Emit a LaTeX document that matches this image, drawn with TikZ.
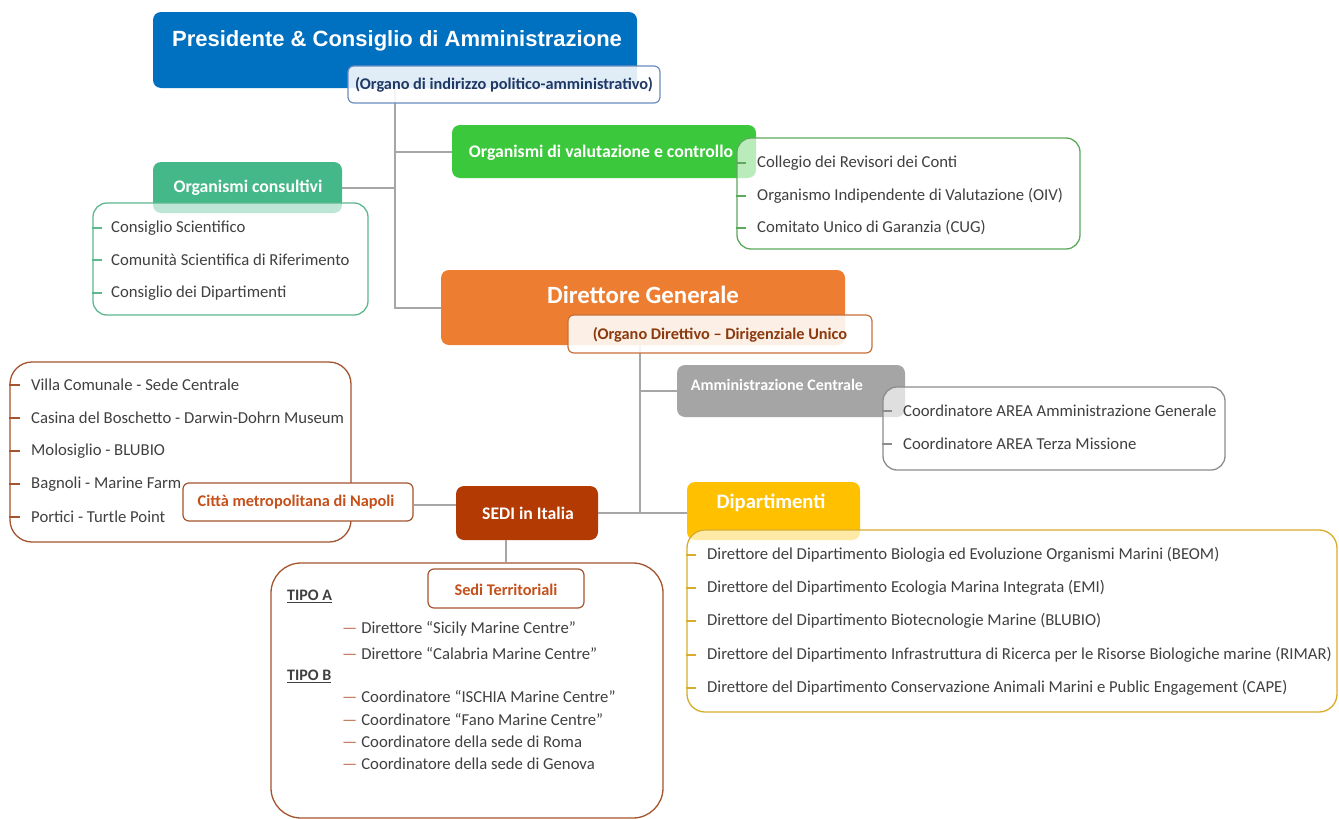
\documentclass[tikz,border=0pt]{standalone}
\usepackage{fontspec}
\setmainfont{Carlito}
\newfontfamily\arialfont{Liberation Sans}
\definecolor{cBlue}{HTML}{0070C0}
\definecolor{cBlueBorder}{HTML}{6A8CC0}
\definecolor{cNavy}{HTML}{1F3864}
\definecolor{cGreen}{HTML}{3CC83C}
\definecolor{cGreenBorder}{HTML}{5DAA5D}
\definecolor{cTeal}{HTML}{45B88A}
\definecolor{cTealBorder}{HTML}{5DB890}
\definecolor{cOrange}{HTML}{ED7D31}
\definecolor{cOrangeBorder}{HTML}{C8703A}
\definecolor{cOrangeText}{HTML}{8B3A0E}
\definecolor{cGrey}{HTML}{A5A5A5}
\definecolor{cGreyBorder}{HTML}{8C8C8C}
\definecolor{cYellow}{HTML}{FFC000}
\definecolor{cYellowBorder}{HTML}{D9AD2C}
\definecolor{cSedi}{HTML}{B33A03}
\definecolor{cBrown}{HTML}{A4552F}
\definecolor{cCitta}{HTML}{C5501A}
\definecolor{cDash}{HTML}{C0704A}
\definecolor{cItem}{HTML}{404040}
\definecolor{cConn}{HTML}{A6A6A6}
\begin{document}
\begin{tikzpicture}[x=1pt,y=-1pt,
  hdr/.style={rounded corners=8pt, inner sep=0pt, draw=none},
  listbox/.style={draw, line width=1.3pt, rounded corners=14pt, fill=white, fill opacity=0.65, inner sep=0pt},
  subbox/.style={draw, line width=1.2pt, rounded corners=6pt, fill=white, fill opacity=0.88, inner sep=0pt},
  htext/.style={text=white, font=\bfseries\fontsize{17.7}{20}\selectfont, inner sep=0pt},
  stext/.style={font=\bfseries\fontsize{16.3}{18}\selectfont, inner sep=0pt},
  item/.style={anchor=west, text=cItem, font=\fontsize{16.7}{19}\selectfont, inner sep=0pt},
  conn/.style={draw=cConn, line width=2pt},
  tick/.style={line width=1.3pt}
]
\useasboundingbox[fill=white] (0,0) rectangle (1339,819);

% ---------- boxes (positions) ----------
\node[hdr, fill=cBlue, minimum width=484pt, minimum height=76pt] (pres) at (395,50) {};
\node[hdr, fill=cGreen, minimum width=304pt, minimum height=53pt] (val) at (604,151.5) {};
\node[hdr, fill=cTeal, minimum width=189pt, minimum height=51pt] (cons) at (247.5,187.5) {};
\node[hdr, fill=cOrange, minimum width=404pt, minimum height=75pt] (dg) at (643,307.5) {};
\node[hdr, fill=cGrey, minimum width=228pt, minimum height=52pt] (amm) at (791,391) {};
\node[hdr, fill=cYellow, minimum width=173pt, minimum height=58pt] (dip) at (773.5,511) {};
\node[hdr, fill=cSedi, minimum width=142pt, minimum height=54pt] (sedi) at (527,513) {};

% ---------- connectors ----------
\path[conn] (pres.center |- pres.south) -- (pres.center |- dg.west) -- (dg.west);
\path[conn] (pres.center |- val.west) -- (val.west);
\path[conn] (cons.east) -- (pres.center |- cons.east);
\path[conn] ([xshift=-3pt]dg.center |- dg.south) -- ([xshift=-3pt]dg.center |- sedi.east);
\path[conn] ([xshift=-3pt]dg.center |- amm.west) -- (amm.west);
\path[conn] (sedi.east) -- (dip.west |- sedi.east);

% ---------- sub boxes and lists ----------
\node[subbox, draw=cBlueBorder, minimum width=312pt, minimum height=37pt] (presSub) at (504,84.5) {};
\node[listbox, draw=cGreenBorder, minimum width=343pt, minimum height=111pt] (valList) at (908.5,193.5) {};
\node[listbox, draw=cTealBorder, minimum width=275pt, minimum height=112pt] (consList) at (230.5,259) {};
\node[subbox, draw=cOrangeBorder, minimum width=304pt, minimum height=38pt] (dgSub) at (720,334) {};
\node[listbox, draw=cGreyBorder, minimum width=342pt, minimum height=83pt] (ammList) at (1054,428.5) {};
\node[listbox, draw=cYellowBorder, minimum width=650pt, minimum height=182pt, rounded corners=18pt] (dipList) at (1012,621) {};
\node[listbox, draw=cBrown, minimum width=341pt, minimum height=180pt, rounded corners=22pt, fill opacity=1] (napList) at (180.5,452) {};
\node[subbox, draw=cBrown, minimum width=230pt, minimum height=38pt, fill opacity=1] (citta) at (298,502) {};
\path[conn] (citta.east |- 0,505) -- (sedi.west |- 0,505);
\node[listbox, draw=cBrown, minimum width=392pt, minimum height=255pt, rounded corners=30pt, fill opacity=1] (terrList) at (467,690.5) {};
\node[subbox, draw=cBrown, minimum width=156pt, minimum height=39pt, fill opacity=1] (terrT) at (506,588.5) {};
\path[conn] (terrT.north |- sedi.south) -- (terrT.north |- terrList.north);

% ---------- header texts ----------
\node[text=white, font=\arialfont\bfseries\fontsize{22}{24}\selectfont, inner sep=0pt] (presT) at (397,41) {Presidente \& Consiglio di Amministrazione};
\node[stext, text=cNavy] (presSubT) at (504,85) {(Organo di indirizzo politico-amministrativo)};
\node[htext] (valT) at (601,153) {Organismi di valutazione e controllo};
\node[htext] (consT) at (248,188) {Organismi consultivi};
\node[htext, font=\bfseries\fontsize{24.8}{27}\selectfont] (dgT) at (643,295) {Direttore Generale};
\node[stext, text=cOrangeText] (dgSubT) at (720,335) {(Organo Direttivo – Dirigenziale Unico};
\node[htext, font=\bfseries\fontsize{16}{18}\selectfont] (ammT) at (777,385) {Amministrazione Centrale};
\node[htext, font=\bfseries\fontsize{20.6}{23}\selectfont] (dipT) at (771,503) {Dipartimenti};
\node[htext] (sediT) at (528,513) {SEDI in Italia};
\node[stext, text=cCitta] (cittaT) at (296,502) {Città metropolitana di Napoli};
\node[stext, text=cCitta] (terrTT) at (506,590) {Sedi Territoriali};

% ---------- list items ----------
\node[item] (v1) at (757,163) {Collegio dei Revisori dei Conti};
\node[item] (v2) at (757,196) {Organismo Indipendente di Valutazione (OIV)};
\node[item] (v3) at (757,228) {Comitato Unico di Garanzia (CUG)};
\foreach \n in {v1,v2,v3} \draw[tick, cGreenBorder] (valList.west |- \n.west) -- ++(10,0);

\node[item] (c1) at (111,228) {Consiglio Scientifico};
\node[item] (c2) at (111,260) {Comunità Scientifica di Riferimento};
\node[item] (c3) at (111,293) {Consiglio dei Dipartimenti};
\foreach \n in {c1,c2,c3} \draw[tick, cTealBorder] (consList.west |- \n.west) -- ++(10,0);

\node[item] (a1) at (903,411) {Coordinatore AREA Amministrazione Generale};
\node[item] (a2) at (903,444) {Coordinatore AREA Terza Missione};
\foreach \n in {a1,a2} \draw[tick, cGreyBorder] (ammList.west |- \n.west) -- ++(10,0);

\node[item] (d1) at (707,555) {Direttore del Dipartimento Biologia ed Evoluzione Organismi Marini (BEOM)};
\node[item] (d2) at (707,588) {Direttore del Dipartimento Ecologia Marina Integrata (EMI)};
\node[item] (d3) at (707,621) {Direttore del Dipartimento Biotecnologie Marine (BLUBIO)};
\node[item] (d4) at (707,655) {Direttore del Dipartimento Infrastruttura di Ricerca per le Risorse Biologiche marine (RIMAR)};
\node[item] (d5) at (707,688) {Direttore del Dipartimento Conservazione Animali Marini e Public Engagement (CAPE)};
\foreach \n in {d1,d2,d3,d4,d5} \draw[tick, cYellowBorder] (dipList.west |- \n.west) -- ++(10,0);

\node[item] (n1) at (31,385) {Villa Comunale - Sede Centrale};
\node[item] (n2) at (31,418) {Casina del Boschetto - Darwin-Dohrn Museum};
\node[item] (n3) at (31,451) {Molosiglio - BLUBIO};
\node[item] (n4) at (31,484) {Bagnoli - Marine Farm};
\node[item] (n5) at (31,517) {Portici - Turtle Point};
\foreach \n in {n1,n2,n3,n4,n5} \draw[tick, cBrown] (napList.west |- \n.west) -- ++(11,0);

\node[item, font=\bfseries\fontsize{16}{18}\selectfont] (ta) at (287,596) {\underline{TIPO A}};
\node[item] (t1) at (342,629) {\textcolor{cDash}{—}\hspace{4pt}Direttore “Sicily Marine Centre”};
\node[item] (t2) at (342,654) {\textcolor{cDash}{—}\hspace{4pt}Direttore “Calabria Marine Centre”};
\node[item, font=\bfseries\fontsize{16}{18}\selectfont] (tb) at (287,676) {\underline{TIPO B}};
\node[item] (t3) at (342,697) {\textcolor{cDash}{—}\hspace{4pt}Coordinatore “ISCHIA Marine Centre”};
\node[item] (t4) at (342,720) {\textcolor{cDash}{—}\hspace{4pt}Coordinatore “Fano Marine Centre”};
\node[item] (t5) at (342,742) {\textcolor{cDash}{—}\hspace{4pt}Coordinatore della sede di Roma};
\node[item] (t6) at (342,764) {\textcolor{cDash}{—}\hspace{4pt}Coordinatore della sede di Genova};
\end{tikzpicture}
\end{document}
